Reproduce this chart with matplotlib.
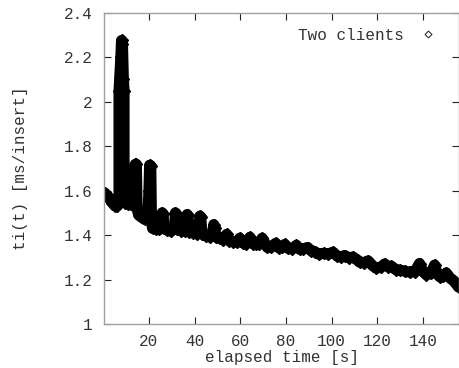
import matplotlib
matplotlib.use("Agg")
import matplotlib.pyplot as plt
from matplotlib.lines import Line2D

# elapsed time [s]
t = [0.8, 2.0, 3.0, 4.0, 5.0, 6.0, 6.9, 6.9, 7.7, 8.0, 8.4, 8.8, 9.1, 9.1, 9.7,
     10.8, 12.0, 13.3, 13.8, 14.0, 14.5, 14.8, 15.5, 16.8, 18.2, 19.5, 20.0, 20.3,
     20.8, 21.1, 21.6, 23.0, 24.5, 25.4, 25.8, 26.2, 26.6, 28.0, 29.5, 31.2, 31.6,
     32.0, 32.4, 34.0, 35.6, 36.4, 36.7, 37.1, 37.6, 39.5, 41.2, 42.0, 42.3, 42.7,
     43.2, 45.0, 46.8, 48.0, 48.4, 48.8, 49.5, 51.0, 52.5, 54.0, 55.2, 57.0, 58.5,
     59.8, 61.0, 62.7, 64.2, 65.5, 67.0, 68.3, 69.6, 71.0, 71.8, 73.5, 75.5, 77.0,
     78.3, 79.5, 81.0, 82.7, 84.6, 86.0, 87.5, 89.5, 91.0, 92.6, 94.5, 96.5, 98.5,
     100.6, 102.5, 104.0, 105.7, 107.5, 109.4, 111.0, 112.3, 114.0, 116.0, 118.0,
     119.6, 121.5, 123.2, 124.6, 126.2, 128.0, 129.8, 132.0, 134.2, 136.5, 138.5,
     139.8, 141.5, 143.5, 145.1, 146.3, 147.3, 149.0, 150.2, 152.0, 153.5, 154.6,
     155.6]
# ti(t) [ms/insert]
ti = [1.588, 1.575, 1.560, 1.545, 1.532, 1.530, 1.560, 2.050, 2.200, 2.275, 2.260,
      2.100, 2.050, 1.600, 1.545, 1.540, 1.548, 1.530, 1.560, 1.718, 1.718, 1.520,
      1.490, 1.480, 1.470, 1.475, 1.600, 1.714, 1.712, 1.460, 1.430, 1.428, 1.425,
      1.440, 1.500, 1.496, 1.430, 1.422, 1.418, 1.430, 1.500, 1.496, 1.425, 1.420,
      1.418, 1.440, 1.492, 1.488, 1.415, 1.410, 1.405, 1.440, 1.485, 1.482, 1.405,
      1.395, 1.392, 1.420, 1.447, 1.430, 1.390, 1.385, 1.378, 1.403, 1.375, 1.370,
      1.368, 1.386, 1.365, 1.362, 1.390, 1.362, 1.360, 1.362, 1.386, 1.360, 1.345,
      1.346, 1.363, 1.342, 1.345, 1.358, 1.340, 1.338, 1.354, 1.336, 1.338, 1.344,
      1.330, 1.325, 1.314, 1.318, 1.315, 1.323, 1.305, 1.302, 1.308, 1.298, 1.301,
      1.290, 1.278, 1.276, 1.284, 1.262, 1.252, 1.255, 1.270, 1.258, 1.260, 1.245,
      1.242, 1.238, 1.233, 1.236, 1.272, 1.240, 1.222, 1.228, 1.265, 1.225, 1.213,
      1.215, 1.230, 1.205, 1.195, 1.180, 1.166]

x_ticks = [20, 40, 60, 80, 100, 120, 140]
y_ticks = [1.0, 1.2, 1.4, 1.6, 1.8, 2.0, 2.2, 2.4]
y_tick_labels = ["1", "1.2", "1.4", "1.6", "1.8", "2", "2.2", "2.4"]
series_label = "Two clients"

FONT = "Liberation Mono"
FS = 11.5
TXT = "#333333"
BORDER = "#a0a0a0"

fig = plt.figure(figsize=(4.59, 3.68), dpi=100)
ax = fig.add_axes([104.3 / 459, 44 / 368, 1 - 104.3 / 459, (324 - 12.7) / 368])

ax.plot(t, ti, color="black", lw=8, marker="D", ms=6, solid_joinstyle="round",
        solid_capstyle="round", clip_on=True)

ax.set_xlim(0.45, 155.8)
ax.set_ylim(1.0, 2.4)
ax.set_xticks(x_ticks)
ax.set_xticklabels([str(v) for v in x_ticks])
ax.set_yticks(y_ticks)
ax.set_yticklabels(y_tick_labels)

for s in ax.spines.values():
    s.set_color(BORDER)
    s.set_linewidth(1.0)

ax.tick_params(direction="in", length=4.8, width=0.8, color="#222222",
               top=True, right=True, labelsize=FS, labelcolor=TXT)
ax.tick_params(axis="x", pad=7)
ax.tick_params(axis="y", pad=8.5)
for lab in ax.get_xticklabels() + ax.get_yticklabels():
    lab.set_fontfamily(FONT)

ax.set_xlabel("elapsed time [s]", fontfamily=FONT, fontsize=FS, color=TXT, labelpad=1)
ax.set_ylabel("ti(t) [ms/insert]", fontfamily=FONT, fontsize=FS, color=TXT, labelpad=26)

handle = Line2D([], [], ls="none", marker="D", ms=3.5, mfc="white", mec="#333333", mew=0.8)
leg = ax.legend([handle], [series_label], loc="upper right", frameon=False,
                markerfirst=False, handlelength=1.0, handletextpad=1.0,
                bbox_to_anchor=(436 / 459, (368 - 28) / 368), bbox_transform=fig.transFigure,
                borderpad=0, borderaxespad=0,
                prop={"family": FONT, "size": FS})
for txt in leg.get_texts():
    txt.set_color(TXT)

fig.savefig("out.png", dpi=100)
